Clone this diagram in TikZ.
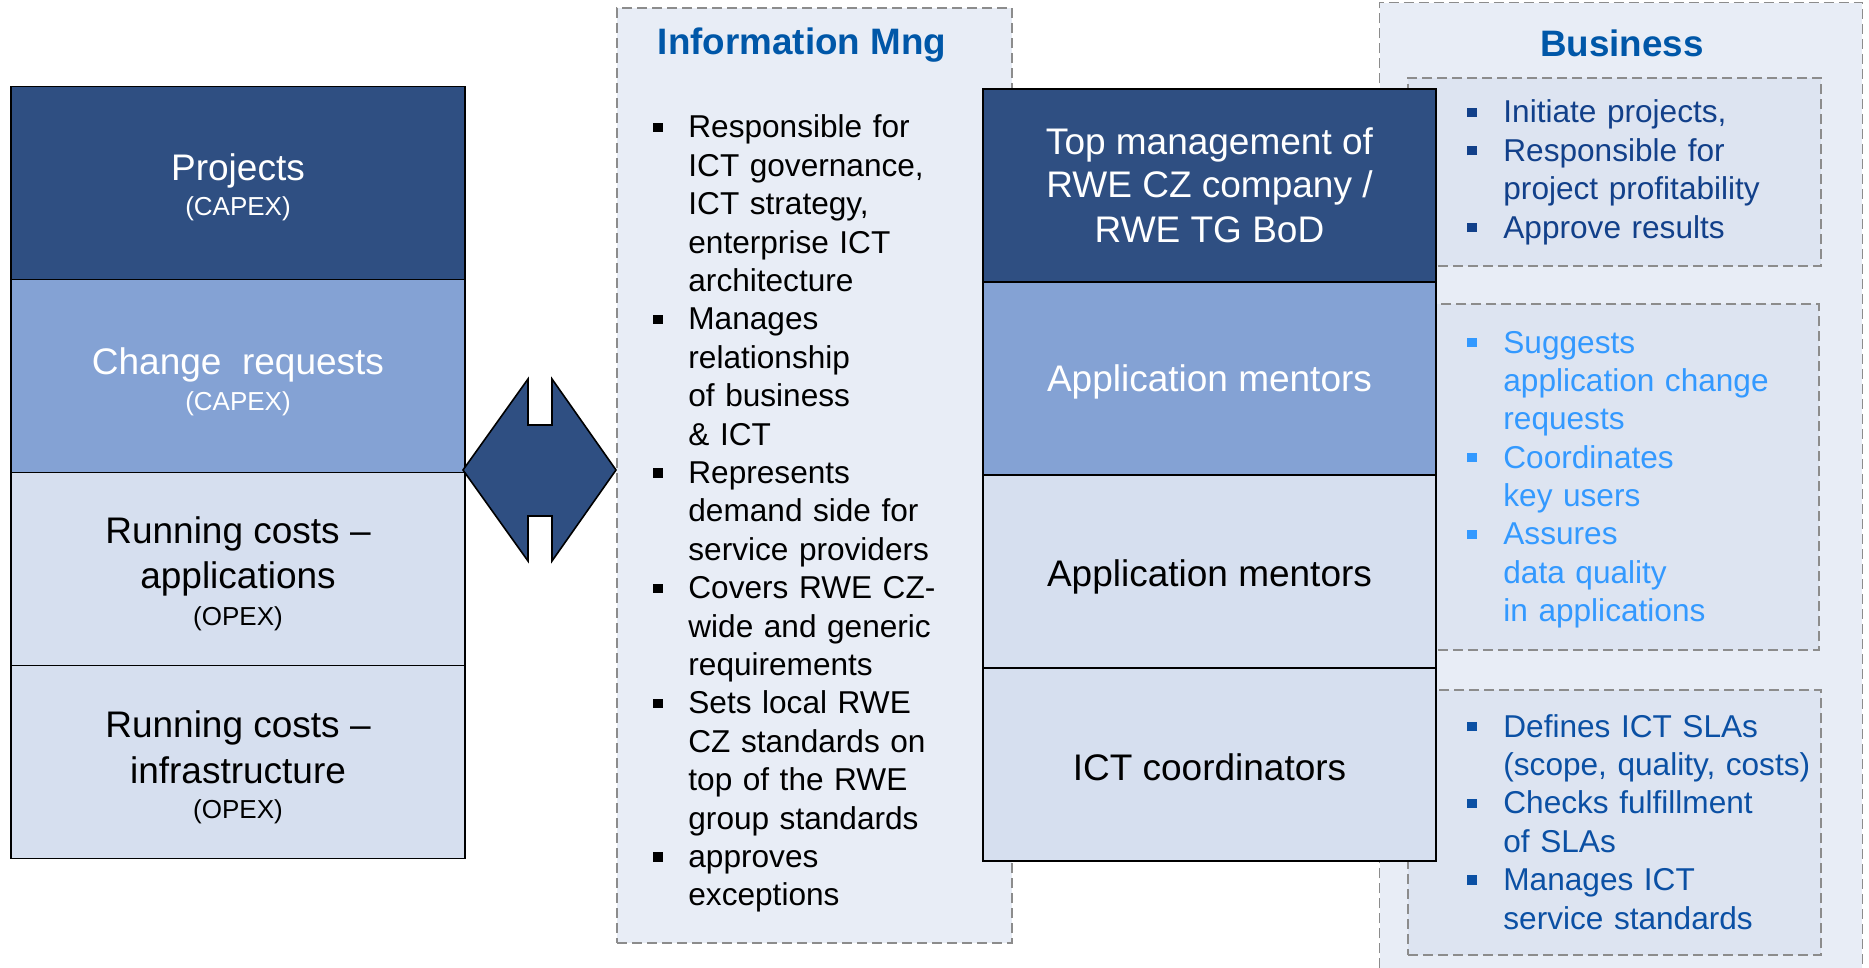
\documentclass[tikz,border=0pt]{standalone}
\usepackage{fontspec}
\setmainfont{Liberation Sans}
\definecolor{navy}{HTML}{2F4F82}
\definecolor{midblue}{HTML}{84A2D4}
\definecolor{lightblue}{HTML}{D6DFEF}
\definecolor{panelbg}{HTML}{E8EDF6}
\definecolor{innerbg}{HTML}{DDE4F1}
\definecolor{dashgray}{HTML}{8C8C8C}
\definecolor{titleblue}{HTML}{0057A8}
\definecolor{txtA}{HTML}{12408A}
\definecolor{txtB}{HTML}{3399FF}
\definecolor{txtC}{HTML}{0B50A4}
\newcommand{\bul}{\makebox[17.5pt][l]{\rule[3pt]{4.6pt}{4.6pt}}}
\newcommand{\ind}{\hspace*{17.5pt}}
\newcommand{\bbul}{\makebox[18pt][l]{\rule[3pt]{4.6pt}{4.6pt}}}
\newcommand{\bind}{\hspace*{18pt}}
\begin{document}
\begin{tikzpicture}[x=0.5pt,y=-0.5pt,
  cellbox/.style={draw=black, line width=0.8pt, inner sep=0pt},
  leftcell/.style={cellbox, minimum width=227pt, minimum height=96.5pt},
  rolecell/.style={cellbox, minimum width=226.5pt, minimum height=96.5pt},
  biglbl/.style={anchor=base, inner sep=0pt, font=\fontsize{18.5pt}{22.5pt}\selectfont},
  smalllbl/.style={anchor=base, inner sep=0pt, font=\fontsize{13pt}{15pt}\selectfont},
  dashbox/.style={draw=dashgray, dash pattern=on 5pt off 2.5pt, line width=0.6pt},
  paneltitle/.style={anchor=base, inner sep=0pt, text=titleblue,
    font=\fontsize{18.4pt}{22pt}\selectfont\bfseries},
  bulletlist/.style={anchor=base west, inner sep=0pt, align=left,
    text width=190pt, font=\fontsize{15.8pt}{19.2pt}\selectfont}
]
\useasboundingbox (0,0) rectangle (1869,968);
\fill[white] (0,0) rectangle (1869,968);

% Business panel
\node[fill=panelbg, minimum width=241pt, minimum height=482.5pt, inner sep=0pt] (biz) at (1621,485.5) {};
\draw[dashbox] (biz.south west) -- (biz.north west) -- (biz.north east) -- (biz.south east);
\node[paneltitle] (biztitle) at (1622,57) {Business};

% Information Mng panel
\node[fill=panelbg, dashbox, minimum width=197.5pt, minimum height=467.5pt, inner sep=0pt] (info) at (814.5,475.5) {};
\node[paneltitle] (infotitle) at (802,55) {Information Mng};

% Inner business boxes
\node[fill=innerbg, dashbox, minimum width=206.5pt, minimum height=94pt, inner sep=0pt] (bizA) at (1614.5,172) {};
\node[fill=innerbg, dashbox, minimum width=205.5pt, minimum height=173pt, inner sep=0pt] (bizB) at (1613.5,477) {};
\node[fill=innerbg, dashbox, minimum width=206.5pt, minimum height=132.5pt, inner sep=0pt] (bizC) at (1614.5,822.5) {};

% Left column
\node[leftcell, fill=navy] (proj) at (238,183) {};
\node[leftcell, fill=midblue] (chg) at (238,376) {};
\node[leftcell, fill=lightblue] (runapp) at (238,569) {};
\node[leftcell, fill=lightblue] (runinf) at (238,762) {};
\node[biglbl, text=white] (projL1) at (238,181) {Projects};
\node[smalllbl, text=white] (projL2) at (238,216) {(CAPEX)};
\node[biglbl, text=white] (chgL1) at (238,374) {Change\ \ requests};
\node[smalllbl, text=white] (chgL2) at (238,410) {(CAPEX)};
\node[biglbl] (runappL1) at (238,543) {Running costs --};
\node[biglbl] (runappL2) at (238,588) {applications};
\node[smalllbl] (runappL3) at (238,625) {(OPEX)};
\node[biglbl] (runinfL1) at (238,737) {Running costs --};
\node[biglbl] (runinfL2) at (238,783) {infrastructure};
\node[smalllbl] (runinfL3) at (238,818) {(OPEX)};

% Role column
\node[rolecell, fill=navy] (topm) at (1209.5,185.5) {};
\node[rolecell, fill=midblue] (mentA) at (1209.5,378.5) {};
\node[rolecell, fill=lightblue] (mentB) at (1209.5,571.5) {};
\node[rolecell, fill=lightblue] (ictc) at (1209.5,764.5) {};
\node[biglbl, text=white] (topmL1) at (1209.5,155) {Top management of};
\node[biglbl, text=white] (topmL2) at (1209.5,198) {RWE CZ company /};
\node[biglbl, text=white] (topmL3) at (1209.5,243) {RWE TG BoD};
\node[biglbl, text=white] (mentAL) at (1209.5,392) {Application mentors};
\node[biglbl] (mentBL) at (1209.5,586) {Application mentors};
\node[biglbl] (ictcL) at (1209.5,780) {ICT coordinators};

% Double arrow
\coordinate (tipL) at (463,470);
\coordinate (tipR) at (616,470);
\draw[fill=navy, line width=0.8pt, line join=miter] (tipL) -- ++(65,-91) -- ++(0,46) -- ++(24,0) -- ++(0,-46)
  -- (tipR) -- ++(-64,91) -- ++(0,-45) -- ++(-24,0) -- ++(0,45) -- cycle;

% Info Mng list
\node[bulletlist, text=black] (infolist) at (653,138) {%
\bul Responsible for\\
\ind ICT governance,\\
\ind ICT strategy,\\
\ind enterprise ICT\\
\ind architecture\\
\bul Manages\\
\ind relationship\\
\ind of business\\
\ind \& ICT\\
\bul Represents\\
\ind demand side for\\
\ind service providers\\
\bul Covers RWE CZ-\\
\ind wide and generic\\
\ind requirements\\
\bul Sets local RWE\\
\ind CZ standards on\\
\ind top of the RWE\\
\ind group standards\\
\bul approves\\
\ind exceptions};

% Business lists
\node[bulletlist, text=txtA] (listA) at (1467,123) {%
\bbul Initiate projects,\\
\bbul Responsible for\\
\bind project profitability\\
\bbul Approve results};
\node[bulletlist, text=txtB] (listB) at (1467,353) {%
\bbul Suggests\\
\bind application change\\
\bind requests\\
\bbul Coordinates\\
\bind key users\\
\bbul Assures\\
\bind data quality\\
\bind in applications};
\node[bulletlist, text=txtC] (listC) at (1467,737) {%
\bbul Defines ICT SLAs\\
\bind (scope, quality, costs)\\
\bbul Checks fulfillment\\
\bind of SLAs\\
\bbul Manages ICT\\
\bind service standards};
\end{tikzpicture}
\end{document}
